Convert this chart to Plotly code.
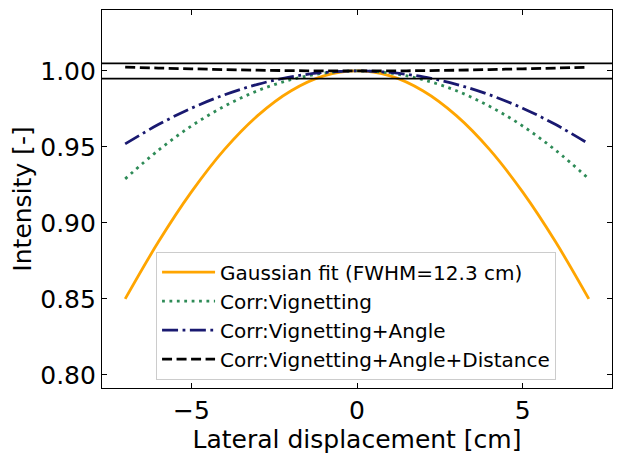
import plotly.graph_objects as go

# ---- data ----
x_cm = [-7, -6, -5, -4, -3, -2, -1, 0, 1, 2, 3, 4, 5, 6, 7]

gaussian_fit = [0.850, 0.8874, 0.9204, 0.9484, 0.9706, 0.9868, 0.9967, 1.000,
                0.9967, 0.9868, 0.9706, 0.9484, 0.9204, 0.8874, 0.850]
corr_vignetting = [0.929, 0.9478, 0.9638, 0.9768, 0.9870, 0.9942, 0.9986, 1.000,
                   0.9986, 0.9942, 0.9870, 0.9768, 0.9638, 0.9478, 0.929]
corr_vig_angle = [0.952, 0.9647, 0.9755, 0.9843, 0.9912, 0.9961, 0.9990, 1.000,
                  0.9990, 0.9961, 0.9912, 0.9843, 0.9755, 0.9647, 0.952]
corr_vig_angle_dist = [1.0025, 1.0019, 1.0014, 1.0009, 1.0005, 1.0002, 1.00005, 1.000,
                       1.00005, 1.0002, 1.0005, 1.0009, 1.0014, 1.0019, 1.0025]

tolerance_levels = [1.005, 0.995]

series_names = ["Gaussian fit (FWHM=12.3 cm)", "Corr:Vignetting",
                "Corr:Vignetting+Angle", "Corr:Vignetting+Angle+Distance"]

y_ticks = [0.80, 0.85, 0.90, 0.95, 1.00]
x_ticks = [-5, 0, 5]

# ---- styling ----
colors = ["#FFA500", "#2E8B57", "#191970", "#000000"]
dashes = ["solid", "2.8px,4.6px", "16px,4.5px,2.8px,4.5px", "10px,4.5px"]
FONT = "DejaVu Sans"
AX_FONT = 25

fig = go.Figure()
for i, (name, ys) in enumerate(zip(series_names,
                                   [gaussian_fit, corr_vignetting, corr_vig_angle, corr_vig_angle_dist])):
    fig.add_trace(go.Scatter(
        x=x_cm, y=ys, mode="lines", name=name, legendgroup=f"g{i}",
        line=dict(color=colors[i], width=2.8, dash=dashes[i], shape="spline"),
    ))

for lvl in tolerance_levels:
    fig.add_hline(y=lvl, line=dict(color="black", width=1.8))

axis_common = dict(
    showline=True, linecolor="black", linewidth=1.1, mirror="ticks",
    ticks="inside", ticklen=5, tickwidth=1, tickcolor="black",
    showgrid=False, zeroline=False,
    tickfont=dict(family=FONT, size=AX_FONT, color="black"),
)

fig.update_xaxes(range=[-7.7, 7.7], tickvals=x_ticks,
                 title=dict(text="Lateral displacement [cm]", font=dict(family=FONT, size=AX_FONT, color="black"), standoff=5),
                 **axis_common)
fig.update_yaxes(range=[0.7914, 1.0401], tickvals=y_ticks, tickformat=".2f",
                 title=dict(text="Intensity [-]", font=dict(family=FONT, size=AX_FONT, color="black"), standoff=10),
                 **axis_common)

# the page body adds an 8px offset, so the figure is drawn 8px smaller
fig.update_layout(
    width=614, height=452,
    margin=dict(l=94, r=10, t=2, b=72),
    paper_bgcolor="white", plot_bgcolor="white",
    font=dict(family=FONT, color="black"),
    legend=dict(
        x=0.106, y=0.022, xanchor="left", yanchor="bottom",
        bgcolor="rgba(255,255,255,0.8)", bordercolor="#cccccc", borderwidth=1,
        font=dict(family=FONT, size=20, color="black"),
        tracegroupgap=0, traceorder="grouped", itemwidth=53,
    ),
    showlegend=True,
)

fig.write_html("out.html")
